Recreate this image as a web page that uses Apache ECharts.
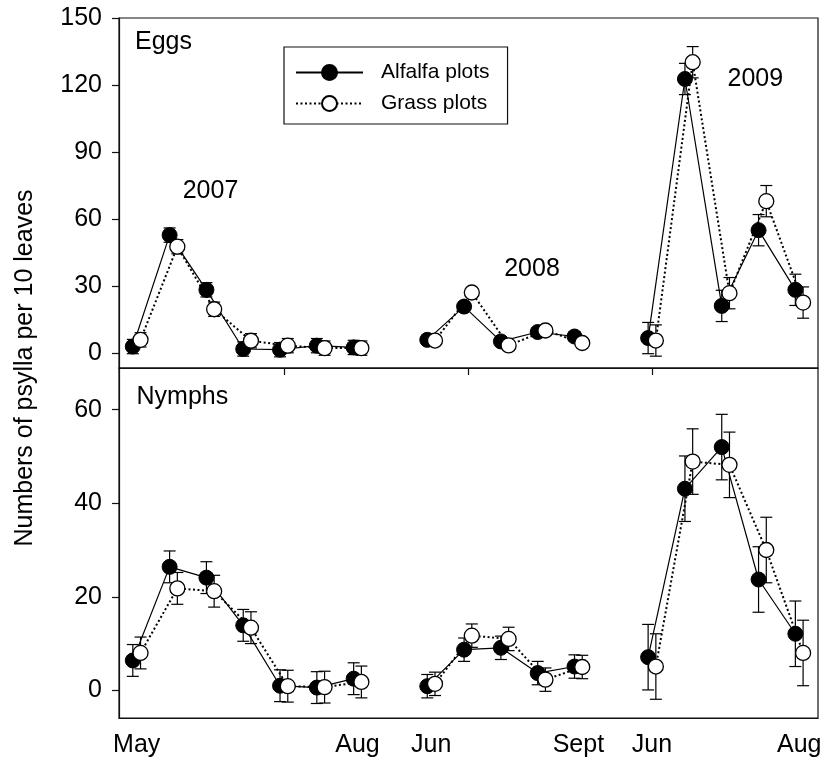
<!DOCTYPE html>
<html>
<head>
<meta charset="utf-8">
<script src="https://cdn.jsdelivr.net/npm/echarts@6/dist/echarts.min.js"></script>
<style>
html,body{margin:0;padding:0;background:#fff;}
#chart{width:826px;height:763px;}
</style>
</head>
<body>
<div id="chart"></div>
<script>
// ---------- data ----------
// sampling positions (consecutive sampling dates, seasons separated by a gap)
const samples2007 = [1, 2, 3, 4, 5, 6, 7];
const samples2008 = [9, 10, 11, 12, 13];
const samples2009 = [15, 16, 17, 18, 19];

// x-axis month labels and their positions
const monthLabelPos = [1, 7, 9, 13, 15, 19];
const monthLabels = ['May', 'Aug', 'Jun', 'Sept', 'Jun', 'Aug'];
const seasonTickPos = [5, 10, 15];

// Eggs (numbers per 10 leaves)
const eggsAlfalfa2007 = [2.9, 52.8, 28.3, 1.8, 1.5, 3.3, 2.5];
const eggsGrass2007   = [5.9, 47.6, 19.6, 5.5, 3.3, 2.2, 2.2];
const eggsAlfalfa2008 = [5.9, 20.8, 5.2, 9.4, 7.4];
const eggsGrass2008   = [5.6, 27.1, 3.4, 10.1, 4.5];
const eggsAlfalfa2009 = [6.7, 122.7, 21.1, 55.0, 28.3];
const eggsGrass2009   = [5.6, 130.2, 26.8, 68.0, 22.6];
const eggsSE2007 = [3.2, 3.2, 3.2, 3.2, 3.2, 3.2, 3.2];
const eggsSE2008 = [2.0, 2.0, 2.0, 2.0, 2.0];
const eggsSE2009 = [7.0, 7.0, 7.0, 7.0, 7.0];

// Nymphs
const nymAlfalfa2007 = [6.4, 26.4, 24.1, 13.9, 1.0, 0.6, 2.5];
const nymGrass2007   = [8.0, 21.8, 21.2, 13.4, 0.9, 0.7, 1.8];
const nymAlfalfa2008 = [0.9, 8.7, 9.1, 3.7, 5.1];
const nymGrass2008   = [1.4, 11.7, 11.0, 2.3, 5.0];
const nymAlfalfa2009 = [7.1, 43.1, 52.0, 23.7, 12.1];
const nymGrass2009   = [5.1, 48.9, 48.2, 30.0, 8.0];
const nymSE2007 = [3.4, 3.4, 3.4, 3.4, 3.4, 3.4, 3.4];
const nymSE2008 = [2.5, 2.5, 2.5, 2.5, 2.5];
const nymSE2009 = [7.0, 7.0, 7.0, 7.0, 7.0];

const eggTicks = [0, 30, 60, 90, 120, 150];
const nymTicks = [0, 20, 40, 60];

// ---------- build ----------
const FONT = '"Liberation Sans", Arial, Helvetica, sans-serif';
const DODGE = 0.105;
const seasonsX = [samples2007, samples2008, samples2009];

function lineData(vals, dodge) {
  const out = [];
  vals.forEach((arr, s) => {
    arr.forEach((v, i) => out.push([seasonsX[s][i] + dodge, v]));
    if (s < vals.length - 1) out.push([seasonsX[s][arr.length - 1] + 1, '-']);
  });
  return out;
}
function errData(vals, ses, dodge) {
  const out = [];
  vals.forEach((arr, s) => {
    arr.forEach((v, i) => out.push([seasonsX[s][i] + dodge, v, ses[s][i]]));
  });
  return out;
}

function errSeries(data, gi, z) {
  return {
    type: 'custom', xAxisIndex: gi, yAxisIndex: gi, z: z, silent: true,
    data: data,
    encode: { x: 0, y: 1 },
    renderItem: function (params, api) {
      const x = api.value(0), y = api.value(1), e = api.value(2);
      const top = api.coord([x, y + e]);
      const bot = api.coord([x, y - e]);
      const hw = 6;
      const st = { stroke: '#000', lineWidth: 1.2 };
      return {
        type: 'group',
        children: [
          { type: 'line', shape: { x1: top[0], y1: top[1], x2: bot[0], y2: bot[1] }, style: st },
          { type: 'line', shape: { x1: top[0] - hw, y1: top[1], x2: top[0] + hw, y2: top[1] }, style: st },
          { type: 'line', shape: { x1: bot[0] - hw, y1: bot[1], x2: bot[0] + hw, y2: bot[1] }, style: st }
        ]
      };
    }
  };
}

function alfalfaSeries(data, gi) {
  return {
    name: 'Alfalfa plots', type: 'line', xAxisIndex: gi, yAxisIndex: gi, z: 3,
    data: data, connectNulls: false, symbol: 'circle', symbolSize: 15,
    lineStyle: { color: '#000', width: 1.2, type: 'solid' },
    itemStyle: { color: '#000', borderColor: '#000', borderWidth: 1 },
    emphasis: { disabled: true }, animation: false
  };
}
function grassSeries(data, gi) {
  return {
    name: 'Grass plots', type: 'line', xAxisIndex: gi, yAxisIndex: gi, z: 4,
    data: data, connectNulls: false, symbol: 'circle', symbolSize: 15,
    lineStyle: { color: '#000', width: 2, type: [2, 2.5] },
    itemStyle: { color: '#fff', borderColor: '#000', borderWidth: 1.3 },
    emphasis: { disabled: true }, animation: false
  };
}

const axisLineStyle = { color: '#111', width: 1.2 };

const chart = echarts.init(document.getElementById('chart'), null, { renderer: 'canvas' });
chart.setOption({
  backgroundColor: '#fff',
  animation: false,
  textStyle: { fontFamily: FONT, color: '#000' },
  grid: [
    { left: 119, right: 8, top: 18, height: 350, show: true, borderColor: '#111', borderWidth: 1.2, backgroundColor: 'transparent' },
    { left: 119, right: 8, top: 368, height: 350, show: true, borderColor: '#111', borderWidth: 1.2, backgroundColor: 'transparent' }
  ],
  legend: {
    data: ['Alfalfa plots', 'Grass plots'],
    orient: 'vertical', left: 284, top: 47,
    padding: [15, 18, 10, 11], itemGap: 10,
    itemWidth: 67, itemHeight: 18.75,
    borderColor: '#111', borderWidth: 1.2, backgroundColor: '#fff',
    selectedMode: false,
    textStyle: { fontFamily: FONT, fontSize: 21, color: '#000', padding: [0, 0, 0, 13] }
  },
  xAxis: [
    {
      type: 'value', gridIndex: 0, min: 0.52, max: 19.51,
      axisLine: { show: true, onZero: false, lineStyle: axisLineStyle },
      axisTick: { show: true, inside: false, length: 7, customValues: seasonTickPos, lineStyle: axisLineStyle },
      axisLabel: { show: false },
      splitLine: { show: false }
    },
    {
      type: 'value', gridIndex: 1, min: 0.52, max: 19.51,
      axisLine: { show: true, onZero: false, lineStyle: axisLineStyle },
      axisTick: { show: false },
      axisLabel: {
        show: true, customValues: monthLabelPos, margin: 15,
        fontFamily: FONT, fontSize: 25, color: '#000',
        formatter: function (v) {
          const i = monthLabelPos.findIndex(p => Math.abs(p - v) < 1e-6);
          return i >= 0 ? monthLabels[i] : '';
        }
      },
      splitLine: { show: false }
    }
  ],
  yAxis: [
    {
      type: 'value', gridIndex: 0, min: -6.7, max: 150,
      axisLine: { show: true, onZero: false, lineStyle: axisLineStyle },
      axisTick: { show: true, inside: false, length: 7, customValues: eggTicks, lineStyle: axisLineStyle },
      axisLabel: { show: true, customValues: eggTicks, margin: 17, fontFamily: FONT, fontSize: 25, color: '#000' },
      splitLine: { show: false }
    },
    {
      type: 'value', gridIndex: 1, min: -5.9, max: 68.9,
      axisLine: { show: true, onZero: false, lineStyle: axisLineStyle },
      axisTick: { show: true, inside: false, length: 7, customValues: nymTicks, lineStyle: axisLineStyle },
      axisLabel: { show: true, customValues: nymTicks, margin: 17, fontFamily: FONT, fontSize: 25, color: '#000' },
      splitLine: { show: false }
    }
  ],
  graphic: [
    { type: 'text', x: 25, y: 368, rotation: Math.PI / 2, style: { text: 'Numbers of psylla per 10 leaves', font: '25px ' + FONT, fill: '#000', textAlign: 'center', textVerticalAlign: 'middle' } },
    { type: 'text', x: 135, y: 42, style: { text: 'Eggs', font: '25px ' + FONT, fill: '#000', textAlign: 'left', textVerticalAlign: 'middle' } },
    { type: 'text', x: 136.5, y: 397, style: { text: 'Nymphs', font: '25px ' + FONT, fill: '#000', textAlign: 'left', textVerticalAlign: 'middle' } },
    { type: 'text', x: 210.5, y: 191.5, style: { text: '2007', font: '25px ' + FONT, fill: '#000', textAlign: 'center', textVerticalAlign: 'middle' } },
    { type: 'text', x: 532, y: 269.5, style: { text: '2008', font: '25px ' + FONT, fill: '#000', textAlign: 'center', textVerticalAlign: 'middle' } },
    { type: 'text', x: 755.3, y: 79, style: { text: '2009', font: '25px ' + FONT, fill: '#000', textAlign: 'center', textVerticalAlign: 'middle' } }
  ],
  series: [
    errSeries(errData([eggsAlfalfa2007, eggsAlfalfa2008, eggsAlfalfa2009], [eggsSE2007, eggsSE2008, eggsSE2009], -DODGE), 0, 1),
    errSeries(errData([eggsGrass2007, eggsGrass2008, eggsGrass2009], [eggsSE2007, eggsSE2008, eggsSE2009], DODGE), 0, 1),
    alfalfaSeries(lineData([eggsAlfalfa2007, eggsAlfalfa2008, eggsAlfalfa2009], -DODGE), 0),
    grassSeries(lineData([eggsGrass2007, eggsGrass2008, eggsGrass2009], DODGE), 0),
    errSeries(errData([nymAlfalfa2007, nymAlfalfa2008, nymAlfalfa2009], [nymSE2007, nymSE2008, nymSE2009], -DODGE), 1, 1),
    errSeries(errData([nymGrass2007, nymGrass2008, nymGrass2009], [nymSE2007, nymSE2008, nymSE2009], DODGE), 1, 1),
    alfalfaSeries(lineData([nymAlfalfa2007, nymAlfalfa2008, nymAlfalfa2009], -DODGE), 1),
    grassSeries(lineData([nymGrass2007, nymGrass2008, nymGrass2009], DODGE), 1)
  ]
});
</script>
</body>
</html>
